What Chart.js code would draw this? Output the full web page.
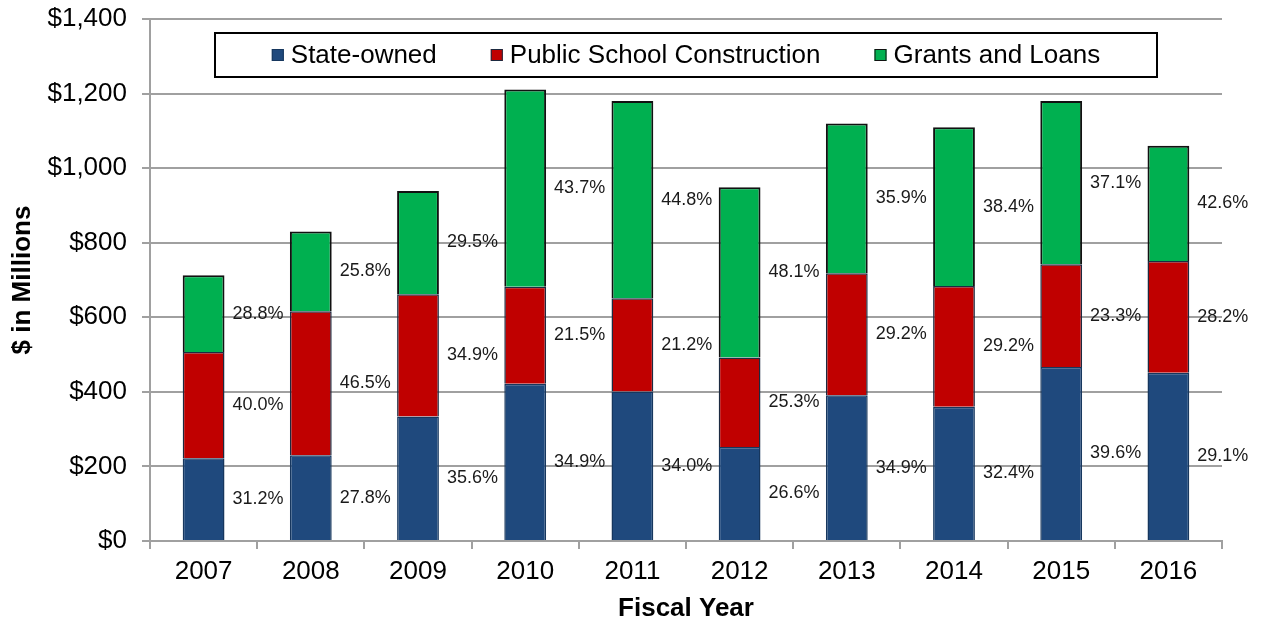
<!DOCTYPE html>
<html>
<head>
<meta charset="utf-8">
<script src="https://cdn.jsdelivr.net/npm/chart.js@4.4.1/dist/chart.umd.min.js"></script>
<style>
    html, body { margin: 0; padding: 0; background: #fff; }
    #wrap { width: 1264px; height: 626px; }
</style>
</head>
<body>
<div id="wrap"><canvas id="chart-capital"></canvas></div>
<script>
const years = ['2007', '2008', '2009', '2010', '2011', '2012', '2013', '2014', '2015', '2016'];
const stateOwned = [222, 230, 334, 422, 401, 252, 391, 360, 467, 451];
const schoolConstruction = [285, 386, 328, 260, 250, 240, 327, 324, 275, 300];
const grantsLoans = [206, 214, 277, 529, 529, 457, 402, 426, 438, 309];

// percent labels as printed on the original (2016 top/bottom are as shown)
const pctState = ['31.2%', '27.8%', '35.6%', '34.9%', '34.0%', '26.6%', '34.9%', '32.4%', '39.6%', '29.1%'];
const pctSchool = ['40.0%', '46.5%', '34.9%', '21.5%', '21.2%', '25.3%', '29.2%', '29.2%', '23.3%', '28.2%'];
const pctGrants = ['28.8%', '25.8%', '29.5%', '43.7%', '44.8%', '48.1%', '35.9%', '38.4%', '37.1%', '42.6%'];

const yTicks = [0, 200, 400, 600, 800, 1000, 1200, 1400];

const FONT = '"Liberation Sans", Arial, sans-serif';
const GRID = '#a0a0a0';

const pctLabels = {
    id: 'pctLabels',
    afterDatasetsDraw(chart) {
        const ctx = chart.ctx;
        const sets = [pctState, pctSchool, pctGrants];
        ctx.save();
        ctx.font = '18px ' + FONT;
        ctx.fillStyle = '#1a1a1a';
        ctx.textAlign = 'left';
        ctx.textBaseline = 'middle';
        chart.data.datasets.forEach((ds, di) => {
            chart.getDatasetMeta(di).data.forEach((bar, i) => {
                const x = bar.x + bar.width / 2 + 8;
                const y = (bar.y + bar.base) / 2;
                ctx.fillText(sets[di][i], x, y);
            });
        });
        ctx.restore();
    }
};

const boxLegend = {
    id: 'boxLegend',
    afterDraw(chart) {
        const ctx = chart.ctx;
        const area = chart.chartArea;
        const left = area.left + 65, top = 33, w = 942, h = 44;
        ctx.save();
        ctx.fillStyle = '#fff';
        ctx.fillRect(left, top, w, h);
        ctx.strokeStyle = '#000';
        ctx.lineWidth = 2;
        ctx.strokeRect(left, top, w, h);

        ctx.font = '26px ' + FONT;
        ctx.textBaseline = 'middle';
        ctx.textAlign = 'left';
        const box = 12, gapText = 7, gapItem = 54;
        const items = chart.data.datasets.map(ds => ({ text: ds.label, fill: ds.backgroundColor, stroke: ds.borderColor }));
        let total = 0;
        items.forEach((it, i) => {
            it.w = ctx.measureText(it.text).width;
            total += box + gapText + it.w + (i < items.length - 1 ? gapItem : 0);
        });
        let x = left + (w - total) / 2;
        const cy = top + h / 2;
        items.forEach(it => {
            ctx.fillStyle = it.fill;
            ctx.fillRect(x, cy - box / 2, box, box);
            ctx.strokeStyle = it.stroke;
            ctx.lineWidth = 1;
            ctx.strokeRect(x + 0.5, cy - box / 2 + 0.5, box - 1, box - 1);
            ctx.fillStyle = '#000';
            ctx.fillText(it.text, x + box + gapText, cy + 1);
            x += box + gapText + it.w + gapItem;
        });
        ctx.restore();
    }
};

new Chart(document.getElementById('chart-capital'), {
    type: 'bar',
    data: {
        labels: years,
        datasets: [
            { label: 'State-owned', data: stateOwned, backgroundColor: '#1f497d', borderColor: '#17375e', borderWidth: 1.5 },
            { label: 'Public School Construction', data: schoolConstruction, backgroundColor: '#c00000', borderColor: '#1c2a40', borderWidth: 1.5 },
            { label: 'Grants and Loans', data: grantsLoans, backgroundColor: '#00b050', borderColor: '#111', borderWidth: 2 }
        ]
    },
    options: {
        responsive: true,
        maintainAspectRatio: false,
        animation: false,
        datasets: { bar: { barPercentage: 0.39, categoryPercentage: 1 } },
        layout: { padding: { top: 19, right: 42, left: 0, bottom: 0 } },
        plugins: {
            legend: { display: false },
            tooltip: { enabled: false }
        },
        scales: {
            x: {
                stacked: true,
                grid: { display: true, offset: true, drawOnChartArea: false, drawTicks: true, tickLength: 8, color: GRID, lineWidth: 2 },
                border: { display: true, color: GRID, width: 2 },
                ticks: { color: '#000', font: { family: FONT, size: 26 }, padding: 7 },
                title: { display: true, text: 'Fiscal Year', color: '#000', font: { family: FONT, size: 26, weight: 'bold' }, padding: { top: 0, bottom: 2 } },
                afterFit: s => { s.height = 85; s.paddingLeft = 0; s.paddingRight = 0; }
            },
            y: {
                stacked: true,
                min: 0,
                max: 1400,
                afterBuildTicks: s => { s.ticks = yTicks.map(v => ({ value: v })); },
                grid: { color: GRID, lineWidth: 2, drawTicks: true, tickLength: 8 },
                border: { display: true, color: GRID, width: 2 },
                ticks: {
                    color: '#000',
                    font: { family: FONT, size: 26 },
                    padding: 15,
                    callback: v => '$' + v.toLocaleString('en-US')
                },
                title: { display: true, text: '$ in Millions', color: '#000', font: { family: FONT, size: 26, weight: 'bold' }, padding: { top: 7, bottom: 0 } },
                afterFit: s => { s.width = 150; s.paddingTop = 0; s.paddingBottom = 0; }
            }
        }
    },
    plugins: [pctLabels, boxLegend]
});
</script>
</body>
</html>
